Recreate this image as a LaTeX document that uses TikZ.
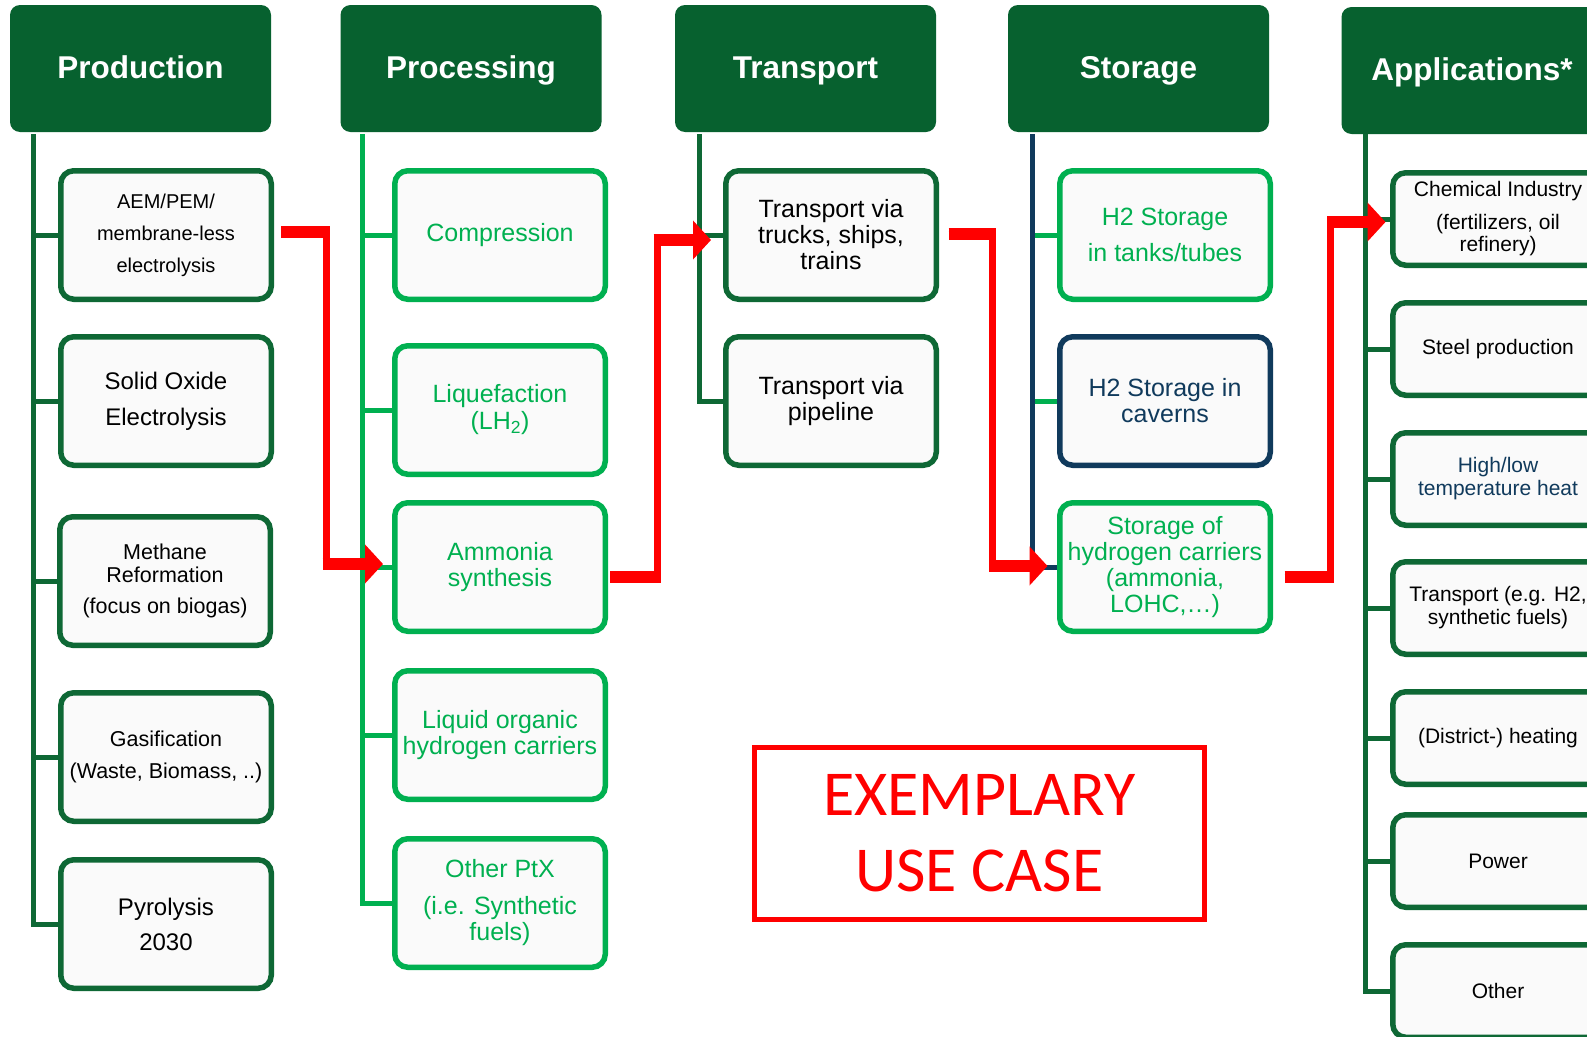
\documentclass[tikz,border=0pt]{standalone}
\usepackage{fontspec}
\setmainfont{Liberation Sans}
\newfontfamily\calibrifont{Carlito}
\usetikzlibrary{arrows.meta}

\definecolor{hdrgreen}{HTML}{07612F}
\definecolor{darkgreen}{HTML}{0E6835}
\definecolor{lightgreen}{HTML}{00B050}
\definecolor{navy}{HTML}{103A5C}
\definecolor{boxfill}{HTML}{FAFAFA}
\definecolor{flowred}{HTML}{FF0000}

\tikzset{
  header/.style={fill=hdrgreen, draw=none, rounded corners=10pt,
    minimum width=261pt, minimum height=127pt, inner sep=0pt,
    text height=22pt, text depth=2pt,
    text=white, font=\fontsize{31.5}{36}\selectfont\bfseries},
  card/.style={fill=boxfill, line width=5.5pt, rounded corners=13pt,
    minimum width=210.5pt, minimum height=128.5pt, inner sep=0pt, align=center},
  prodcard/.style={card, draw=darkgreen, text=black},
  proccard/.style={card, draw=lightgreen, text=lightgreen},
  navycard/.style={card, draw=navy, text=navy},
  appcard/.style={card, draw=darkgreen, minimum height=92.5pt, text=black,
    font=\fontsize{21}{23}\selectfont},
  trunk/.style={line width=5pt, draw=darkgreen},
  lighttrunk/.style={line width=5pt, draw=lightgreen},
  navytrunk/.style={line width=5pt, draw=navy},
  redflow/.style={draw=flowred, line width=7pt,
    -{Triangle[length=18pt, width=38pt]}},
  redbar/.style={draw=flowred, line width=12pt},
  usecase/.style={draw=flowred, line width=5pt, fill=white,
    minimum width=450pt, minimum height=172pt, inner sep=0pt, align=center,
    text=flowred, font=\calibrifont\fontsize{64}{76}\selectfont}
}

\begin{document}
\begin{tikzpicture}[x=1pt, y=-1pt]
\useasboundingbox[fill=white] (0,0) rectangle (1587,1036);

% column headers
\node[header] (hprod) at (140.5,68.5) {Production};
\node[header] (hproc) at (471,68.5) {Processing};
\node[header] (htrans) at (805.5,68.5) {Transport};
\node[header] (hstor) at (1138.5,68.5) {Storage};
\node[header] (happ) at (1472,70.5) {Applications*};

% production
\node[prodcard, font=\fontsize{20}{32}\selectfont] (p1) at (166,235)
  {AEM/PEM/\\membrane-less\\electrolysis};
\node[prodcard, font=\fontsize{24}{36}\selectfont] (p2) at (166,401)
  {Solid Oxide\\Electrolysis};
\node[prodcard, font=\fontsize{21.5}{23}\selectfont] (p3) at (165,581)
  {Methane\\Reformation\\[8pt](focus on biogas)};
\node[prodcard, font=\fontsize{21.5}{32}\selectfont] (p4) at (166,757)
  {Gasification\\(Waste, Biomass, ..)};
\node[prodcard, font=\fontsize{24}{35}\selectfont] (p5) at (166,924)
  {Pyrolysis\\2030};

% processing
\node[proccard, font=\fontsize{25}{27}\selectfont] (c1) at (500,235) {Compression};
\node[proccard, font=\fontsize{25}{27}\selectfont] (c2) at (500,410)
  {Liquefaction\\(LH\textsubscript{2})};
\node[proccard, font=\fontsize{25}{26}\selectfont] (c3) at (500,567)
  {Ammonia\\synthesis};
\node[proccard, font=\fontsize{25}{26}\selectfont] (c4) at (500,735)
  {Liquid organic\\hydrogen carriers};
\node[proccard, font=\fontsize{25}{26}\selectfont] (c5) at (500,903)
  {Other PtX\\[11pt](i.e. Synthetic\\fuels)};

% transport
\node[prodcard, font=\fontsize{25}{26}\selectfont] (t1) at (831,235)
  {Transport via\\trucks, ships,\\trains};
\node[prodcard, font=\fontsize{25}{26}\selectfont] (t2) at (831,401)
  {Transport via\\pipeline};

% storage
\node[proccard, font=\fontsize{25}{36}\selectfont] (s1) at (1165,235)
  {H2 Storage\\in tanks/tubes};
\node[navycard, font=\fontsize{25}{26}\selectfont] (s2) at (1165,401)
  {H2 Storage in\\caverns};
\node[proccard, font=\fontsize{25}{26}\selectfont] (s3) at (1165,567)
  {Storage of\\hydrogen carriers\\(ammonia,\\LOHC,…)};

% applications
\node[appcard, font=\fontsize{21}{22}\selectfont] (a1) at (1498,219)
  {Chemical Industry\\[11pt](fertilizers, oil\\refinery)};
\node[appcard] (a2) at (1498,349) {Steel production};
\node[appcard, text=navy] (a3) at (1498,479) {High/low\\temperature heat};
\node[appcard] (a4) at (1498,608) {Transport (e.g. H2,\\synthetic fuels)};
\node[appcard] (a5) at (1498,738) {(District-) heating};
\node[appcard] (a6) at (1498,861) {Power};
\node[appcard] (a7) at (1498,991) {Other};

% trunks and branches
\coordinate (prodtop) at (33,134);
\draw[trunk] (prodtop) |- (p5.west);
\foreach \n in {p1,p2,p3,p4} \draw[trunk] (\n.west) -- (\n.west -| prodtop);

\coordinate (proctop) at (362,134);
\draw[lighttrunk] (proctop) |- (c5.west);
\foreach \n in {c1,c2,c3,c4} \draw[lighttrunk] (\n.west) -- (\n.west -| proctop);

\coordinate (transtop) at (699,134);
\draw[trunk] (transtop) |- (t2.west);
\draw[trunk] (t1.west) -- (t1.west -| transtop);

\coordinate (stortop) at (1032,134);
\foreach \n in {s1,s2} \draw[lighttrunk] (\n.west) -- (\n.west -| stortop);
\draw[navytrunk] (stortop) |- (s3.west);

\coordinate (apptop) at (1365,134);
\draw[trunk] (apptop) |- (a7.west);
\foreach \n in {a1,a2,a3,a4,a5,a6} \draw[trunk] (\n.west) -- (\n.west -| apptop);

% exemplary hydrogen route
\coordinate (f1c) at ([xshift=-9pt,yshift=3pt]c3.west);
\draw[redflow] ([xshift=7pt,yshift=3pt]p1.east) coordinate (f1a)
  -- ++(45,0) coordinate (f1b) |- (f1c);
\coordinate (f1d) at (f1b |- f1c);
\draw[redbar] (f1a) -- ([xshift=3.5pt]f1b);
\draw[redbar] ([xshift=-3.5pt]f1d) -- ([xshift=-17pt]f1c);

\coordinate (f2c) at ([xshift=-12pt,yshift=-5pt]t1.west);
\draw[redflow] ([xshift=2pt,yshift=-10pt]c3.east) coordinate (f2a)
  -- ++(47,0) coordinate (f2b) |- (f2c);
\coordinate (f2d) at (f2b |- f2c);
\draw[redbar] (f2a) -- ([xshift=3.5pt]f2b);
\draw[redbar] ([xshift=-3.5pt]f2d) -- ([xshift=-17pt]f2c);

\coordinate (f3c) at ([xshift=-9.5pt,yshift=1pt]s3.west);
\draw[redflow] ([xshift=9.5pt,yshift=1pt]t1.east) coordinate (f3a)
  -- ++(44,0) coordinate (f3b) |- (f3c);
\coordinate (f3d) at (f3b |- f3c);
\draw[redbar] (f3a) -- ([xshift=3.5pt]f3b);
\draw[redbar] ([xshift=-3.5pt]f3d) -- ([xshift=-17pt]f3c);

\coordinate (f4c) at ([xshift=-4.5pt,yshift=-3pt]a1.west);
\draw[redflow] ([xshift=11.5pt,yshift=-10pt]s3.east) coordinate (f4a)
  -- ++(46,0) coordinate (f4b) |- (f4c);
\coordinate (f4d) at (f4b |- f4c);
\draw[redbar] (f4a) -- ([xshift=3.5pt]f4b);
\draw[redbar] ([xshift=-3.5pt]f4d) -- ([xshift=-17pt]f4c);

% label box
\node[usecase] (uc) at (979.5,833.5) {EXEMPLARY\\USE CASE};
\end{tikzpicture}
\end{document}
